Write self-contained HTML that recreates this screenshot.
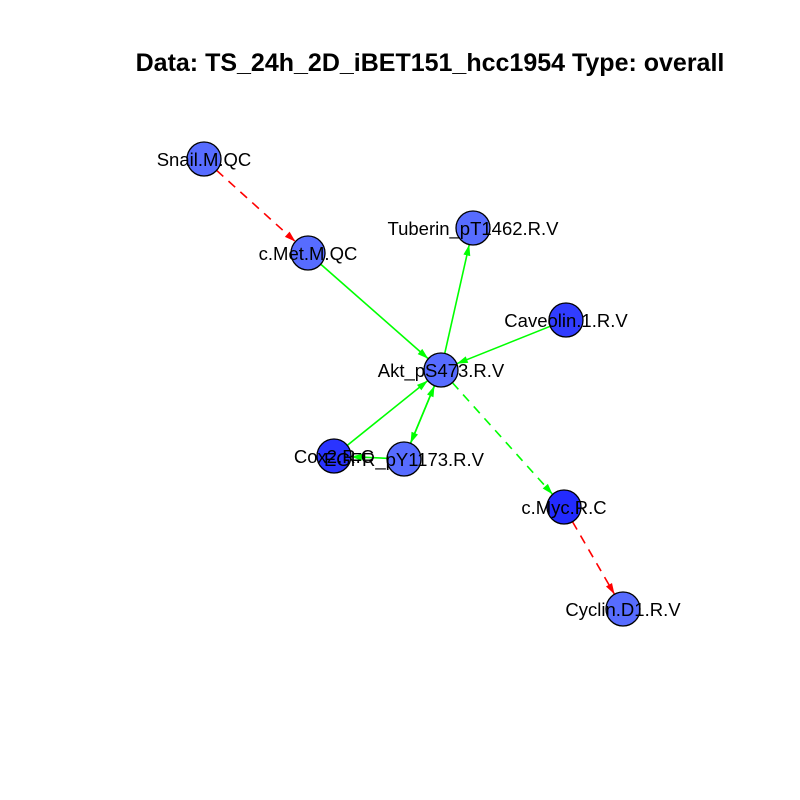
<!DOCTYPE html>
<html><head><meta charset="utf-8"><style>
body{margin:0;background:#fff}
svg{display:block}
text{font-family:"Liberation Sans",Arial,sans-serif}
</style></head><body>
<svg id="chart" width="800" height="800">
<text x="430" y="71" text-anchor="middle" font-size="25" font-weight="bold">Data: TS_24h_2D_iBET151_hcc1954 Type: overall</text>
<g id="edges"></g><g id="nodes"></g>
</svg>
<script>
const nodeNames=["Snail.M.QC","c.Met.M.QC","Tuberin_pT1462.R.V","Caveolin.1.R.V","Akt_pS473.R.V","Cox2.R.C","EGFR_pY1173.R.V","c.Myc.R.C","Cyclin.D1.R.V"];
const nodeX=[204,308,473,566,441,334,404,564,623];
const nodeY=[159,253,228,320,370,456,459,507,609];
const nodeShade=[0.62,0.62,0.62,0.35,0.62,0.3,0.62,0.25,0.62];
const edgeFrom=[0,1,4,3,5,6,4,6,4,7];
const edgeTo=[1,4,2,4,4,4,6,5,7,8];
const edgeSign=[-1,1,1,1,1,1,1,1,1,-1];
const edgeDashed=[1,0,0,0,0,0,0,0,1,1];
const NS="http://www.w3.org/2000/svg",R=17;
const eg=document.getElementById('edges'),ng=document.getElementById('nodes');
function mk(t,a,p){const e=document.createElementNS(NS,t);for(const k in a)e.setAttribute(k,a[k]);p.appendChild(e);return e;}
edgeFrom.forEach((f,i)=>{
  const t=edgeTo[i];const x1=nodeX[f],y1=nodeY[f],x2=nodeX[t],y2=nodeY[t];
  const dx=x2-x1,dy=y2-y1,L=Math.hypot(dx,dy),ux=dx/L,uy=dy/L;
  const col=edgeSign[i]>0?'#00ff00':'#ff0000';
  const ex=x2-ux*R,ey=y2-uy*R;
  const l=mk('line',{x1:x1+ux*R,y1:y1+uy*R,x2:ex,y2:ey,stroke:col,'stroke-width':1.6,'stroke-dasharray':edgeDashed[i]?'9,7':'none'},eg);
  
  
  const px=-uy,py=ux,al=11,aw=3.5;
  const a=mk('polygon',{points:`${ex},${ey} ${ex-ux*al+px*aw},${ey-uy*al+py*aw} ${ex-ux*al-px*aw},${ey-uy*al-py*aw}`,fill:col},eg);
  
  
});
nodeNames.forEach((n,i)=>{
  const s=nodeShade[i];
  const c=mk('circle',{cx:nodeX[i],cy:nodeY[i],r:R,fill:`rgb(${Math.round(255*s*0.55)},${Math.round(255*s*0.68)},255)`,stroke:'#000','stroke-width':1.3},ng);
  
  
  const tx=mk('text',{x:nodeX[i],y:nodeY[i]+7,'text-anchor':'middle','font-size':18.5},ng);
  tx.textContent=n;
  
  
});
</script>
</body></html>
